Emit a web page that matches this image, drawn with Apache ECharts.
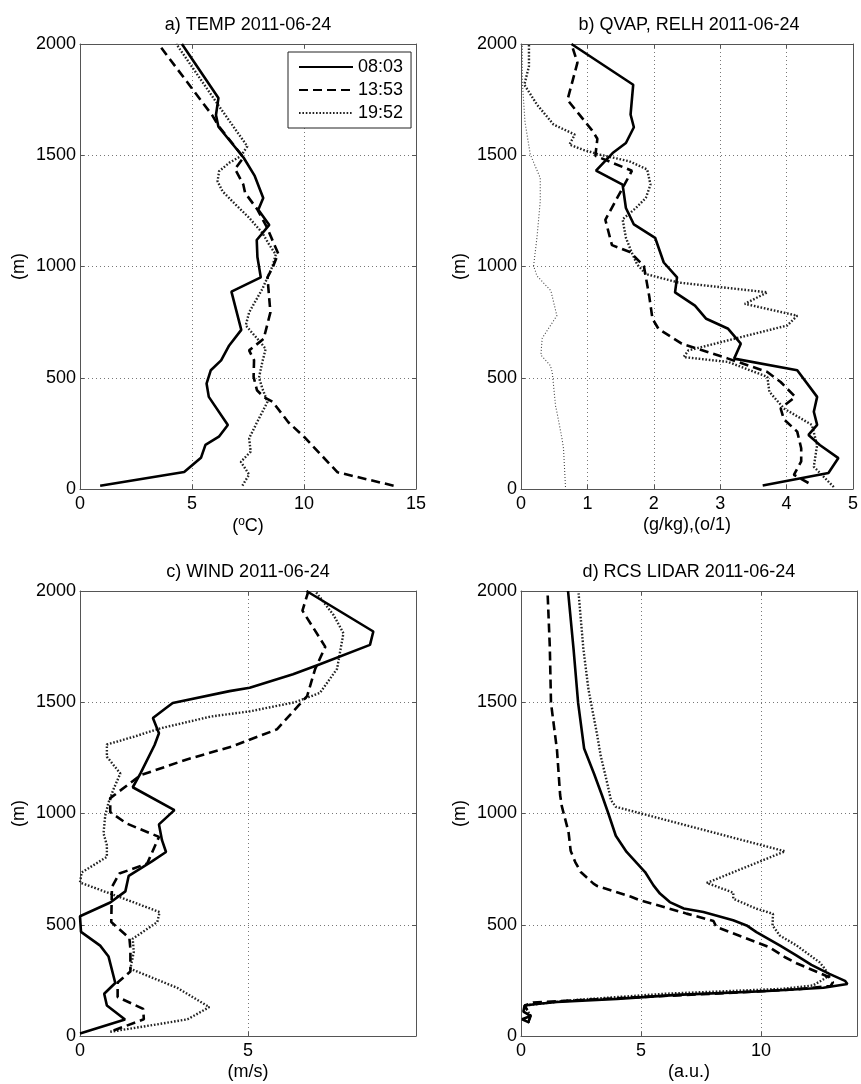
<!DOCTYPE html>
<html><head><meta charset="utf-8">
<script src="https://cdn.jsdelivr.net/npm/echarts@6/dist/echarts.min.js"></script>
<style>html,body{margin:0;padding:0;background:#fff}#c{width:861px;height:1084px}</style>
</head><body><div id="c"></div><script>
// ---------------- DATA ----------------
const seriesNames = ['08:03', '13:53', '19:52'];
const panelTitles = ['a) TEMP 2011-06-24', 'b) QVAP, RELH 2011-06-24', 'c) WIND 2011-06-24', 'd) RCS LIDAR 2011-06-24'];
const xAxisNames = ['({s|o}C)', '(g/kg),(o/1)', '(m/s)', '(a.u.)'];
const yAxisName = '(m)';
const xLimits = [[0, 15, 5], [0, 5, 1], [0, 10, 5], [0, 14, 5]];
const yLimits = [0, 2000, 500];

// a) TEMP
const tempH0803 = [15, 76, 140, 198, 235, 288, 414, 474, 534, 578, 645, 715, 887, 951, 1043, 1119, 1187, 1255, 1308, 1407, 1490, 1628, 1681, 1757, 2000];
const temp0803  = [0.9, 4.65, 5.4, 5.6, 6.2, 6.6, 5.75, 5.65, 5.84, 6.3, 6.66, 7.2, 6.76, 8.07, 7.92, 7.89, 8.45, 7.96, 8.18, 7.8, 7.3, 6.18, 6.07, 6.18, 4.55];
const tempH1353 = [15, 75, 160, 230, 300, 392, 414, 444, 504, 579, 623, 675, 794, 951, 996, 1058, 1179, 1256, 1331, 1369, 1438, 1490, 1630, 1680, 2000];
const temp1353  = [14.0, 11.5, 10.7, 10.05, 9.3, 8.6, 8.2, 7.9, 7.75, 7.77, 7.55, 8.2, 8.5, 8.37, 8.6, 8.85, 8.33, 7.92, 7.37, 7.29, 6.92, 7.3, 6.2, 5.9, 3.5];
const tempH1952 = [15, 65, 122, 168, 228, 303, 392, 452, 500, 571, 630, 675, 735, 794, 899, 1000, 1054, 1099, 1151, 1219, 1278, 1338, 1383, 1428, 1466, 1496, 1540, 1720, 2000];
const temp1952  = [7.25, 7.55, 7.18, 7.62, 7.55, 7.92, 8.37, 8.14, 7.99, 8.14, 8.29, 7.92, 7.4, 7.55, 8.14, 8.59, 8.74, 8.44, 8.14, 7.55, 6.95, 6.36, 6.14, 6.21, 6.66, 7.18, 7.47, 6.21, 4.3];

// b) QVAP, RELH
const qvapH0803 = [16, 72, 139, 198, 243, 288, 347, 414, 534, 586, 653, 720, 765, 824, 884, 951, 1018, 1129, 1189, 1263, 1368, 1431, 1510, 1555, 1626, 1683, 1817, 2000];
const qvap0803  = [3.64, 4.63, 4.78, 4.5, 4.33, 4.46, 4.41, 4.46, 4.16, 3.21, 3.31, 3.12, 2.79, 2.62, 2.32, 2.35, 2.15, 2.02, 1.70, 1.58, 1.53, 1.13, 1.38, 1.58, 1.70, 1.65, 1.69, 0.76];
const qvapH1353 = [27, 64, 124, 183, 258, 313, 362, 414, 481, 526, 586, 653, 720, 765, 869, 1003, 1065, 1096, 1210, 1347, 1430, 1498, 1574, 1612, 1749, 1916, 2000];
const qvap1353  = [4.33, 4.11, 4.22, 4.22, 4.16, 3.96, 3.91, 4.13, 3.91, 3.71, 3.12, 2.42, 2.07, 1.98, 1.93, 1.85, 1.64, 1.37, 1.27, 1.52, 1.67, 1.12, 1.15, 1.07, 0.70, 0.85, 0.76];
const qvapH1952 = [9, 100, 198, 288, 362, 437, 504, 571, 593, 623, 735, 779, 832, 884, 928, 966, 1009, 1054, 1129, 1212, 1263, 1308, 1368, 1436, 1473, 1503, 1525, 1548, 1593, 1638, 1728, 1817, 1900, 2000];
const qvap1952  = [4.71, 4.41, 4.46, 4.38, 3.96, 3.74, 3.71, 3.12, 2.45, 2.52, 4.01, 4.16, 3.37, 3.71, 2.37, 1.88, 1.75, 1.68, 1.58, 1.53, 1.73, 1.88, 1.95, 1.90, 1.63, 1.18, 0.93, 0.73, 0.81, 0.49, 0.24, 0.05, 0.12, 0.12];
const relhH1952 = [9, 183, 222, 347, 374, 466, 526, 556, 602, 645, 678, 779, 891, 958, 1003, 1129, 1293, 1398, 1503, 1650, 1830, 2000];
const relh1952  = [0.67, 0.64, 0.62, 0.54, 0.52, 0.49, 0.47, 0.44, 0.3, 0.31, 0.32, 0.54, 0.45, 0.24, 0.19, 0.24, 0.29, 0.29, 0.14, 0.06, 0.02, 0.02];

// c) WIND
const windH0803 = [11, 74, 137, 190, 238, 357, 406, 468, 538, 600, 650, 720, 785, 827, 880, 951, 1015, 1118, 1180, 1308, 1361, 1429, 1474, 1497, 1550, 1565, 1626, 1671, 1758, 1818, 2000];
const wind0803  = [0.0, 1.34, 0.8, 0.72, 1.05, 0.85, 0.6, 0.03, 0.0, 0.9, 1.35, 1.45, 2.14, 2.56, 2.44, 2.35, 2.81, 1.57, 1.8, 2.22, 2.35, 2.17, 2.56, 2.76, 4.45, 5.05, 6.34, 7.14, 8.63, 8.73, 6.74];
const windH1353 = [25, 75, 122, 175, 240, 290, 390, 440, 512, 670, 730, 775, 895, 955, 1006, 1069, 1172, 1243, 1300, 1378, 1528, 1650, 1749, 1912, 2000];
const wind1353  = [1.0, 1.9, 1.88, 1.12, 1.12, 1.5, 1.5, 1.47, 0.93, 0.95, 1.17, 2.0, 2.35, 1.39, 0.9, 0.9, 1.8, 3.18, 4.5, 5.86, 6.76, 7.0, 7.3, 6.62, 6.8];
const windH1952 = [19, 50, 75, 130, 216, 302, 377, 437, 512, 557, 640, 690, 735, 805, 857, 911, 990, 1050, 1110, 1180, 1255, 1310, 1345, 1383, 1436, 1459, 1500, 1542, 1650, 1810, 1891, 2000];
const wind1952  = [0.9, 2.2, 3.2, 3.85, 2.9, 1.5, 1.6, 1.57, 2.3, 2.37, 0.9, 0.0, 0.05, 0.8, 0.8, 0.7, 0.75, 0.85, 1.0, 1.2, 0.8, 0.8, 1.6, 2.4, 3.9, 5.05, 6.4, 7.14, 7.65, 7.84, 7.55, 7.0];

// d) RCS LIDAR
const rcsH0803 = [60, 75, 90, 110, 137, 144, 153, 167, 185, 201, 217, 234, 248, 279, 320, 362, 407, 467, 497, 520, 557, 573, 602, 640, 677, 737, 827, 900, 1000, 1083, 1180, 1292, 1497, 1739, 2000];
const rcs0803  = [0.35, 0.05, 0.4, 0.1, 0.15, 0.66, 1.5, 4.0, 6.5, 10.1, 12.6, 13.6, 13.5, 12.85, 12.1, 11.47, 10.78, 9.81, 9.4, 8.84, 7.6, 6.78, 6.2, 5.79, 5.52, 5.17, 4.4, 3.95, 3.64, 3.37, 3.04, 2.63, 2.38, 2.19, 1.96];
const rcsH1353 = [60, 90, 137, 150, 170, 190, 210, 225, 242, 264, 327, 354, 399, 490, 517, 550, 580, 610, 627, 674, 685, 737, 782, 832, 917, 1033, 1083, 1285, 1497, 1750, 1987];
const rcs1353  = [0.3, 0.4, 0.15, 0.5, 4.0, 8.0, 11.5, 12.9, 13.0, 12.85, 11.48, 11.0, 10.35, 8.14, 8.02, 6.9, 5.95, 4.96, 4.56, 3.18, 3.02, 2.49, 2.26, 2.07, 1.98, 1.7, 1.63, 1.5, 1.25, 1.2, 1.11];
const rcsH1952 = [60, 90, 137, 160, 190, 212, 227, 248, 272, 312, 332, 407, 452, 497, 549, 572, 617, 644, 688, 830, 1030, 1060, 1133, 1260, 1361, 1558, 1739, 1989];
const rcs1952  = [0.3, 0.4, 0.15, 2.0, 6.0, 10.9, 12.16, 12.5, 12.85, 12.59, 12.43, 11.48, 10.78, 10.48, 10.5, 9.81, 8.84, 8.85, 7.74, 11.0, 3.95, 3.75, 3.6, 3.32, 3.16, 2.81, 2.6, 2.4];

// ---------------- CHART ----------------
const FONT = 'Liberation Sans, Arial, Helvetica, sans-serif';
const grids = [
  {left: 80, top: 44, width: 336, height: 445},
  {left: 521, top: 44, width: 336, height: 445},
  {left: 80, top: 591, width: 336, height: 445},
  {left: 521, top: 591, width: 336, height: 445}
];
const pairs = (vals, hts) => hts.map((h, i) => [vals[i], h]);
const ST = {
  solid:  {type: 'solid', width: 2.6, color: '#000'},
  dashed: {type: [9, 5], width: 2.6, color: '#000'},
  dotted: {type: [1.6, 1.8], width: 2.4, color: '#222'},
  thin:   {type: [1, 2], width: 1.1, color: '#444'}
};
const AXC = '#555';
const plain = v => String(v);
const xAxes = [], yAxes = [];
grids.forEach((g, i) => {
  const [mn, mx, iv] = xLimits[i];
  xAxes.push({
    type: 'value', gridIndex: i, position: 'bottom', min: mn, max: mx, interval: iv,
    name: xAxisNames[i], nameLocation: 'middle', nameGap: 27,
    nameTextStyle: {fontFamily: FONT, fontSize: 18, color: '#000',
      rich: {s: {fontFamily: FONT, fontSize: 12, color: '#000', padding: [0, 0, 9, 0]}}},
    axisLine: {show: true, onZero: false, lineStyle: {color: AXC, width: 1}},
    axisTick: {show: true, inside: true, length: 4, lineStyle: {color: AXC}},
    axisLabel: {show: true, margin: 6, fontFamily: FONT, fontSize: 18, color: '#000', formatter: plain,
      showMaxLabel: mx % iv === 0 && i !== 2},
    splitLine: {show: true, lineStyle: {type: [1, 3], color: '#777', width: 1}}
  });
  xAxes.push({
    type: 'value', gridIndex: i, position: 'top', min: mn, max: mx, interval: iv,
    axisLine: {show: true, onZero: false, lineStyle: {color: AXC, width: 1}},
    axisTick: {show: true, inside: true, length: 4, lineStyle: {color: AXC}},
    axisLabel: {show: false}, splitLine: {show: false}
  });
  yAxes.push({
    type: 'value', gridIndex: i, position: 'left', min: yLimits[0], max: yLimits[1], interval: yLimits[2],
    name: yAxisName, nameLocation: 'middle', nameGap: 52, nameRotate: 90,
    nameTextStyle: {fontFamily: FONT, fontSize: 18, color: '#000'},
    axisLine: {show: true, onZero: false, lineStyle: {color: AXC, width: 1}},
    axisTick: {show: true, inside: true, length: 4, lineStyle: {color: AXC}},
    axisLabel: {show: true, margin: 4, fontFamily: FONT, fontSize: 18, color: '#000', formatter: plain},
    splitLine: {show: true, lineStyle: {type: [1, 3], color: '#777', width: 1}}
  });
  yAxes.push({
    type: 'value', gridIndex: i, position: 'right', min: yLimits[0], max: yLimits[1], interval: yLimits[2],
    axisLine: {show: true, onZero: false, lineStyle: {color: AXC, width: 1}},
    axisTick: {show: true, inside: true, length: 4, lineStyle: {color: AXC}},
    axisLabel: {show: false}, splitLine: {show: false}
  });
});
function line(name, panel, data, style, z) {
  return {
    name: name, type: 'line', xAxisIndex: panel * 2, yAxisIndex: panel * 2,
    data: data, symbol: 'none', showSymbol: false, lineStyle: style,
    itemStyle: {color: style.color}, clip: true, z: z || 2, silent: true
  };
}
const series = [
  line(seriesNames[2], 0, pairs(temp1952, tempH1952), ST.dotted),
  line(seriesNames[1], 0, pairs(temp1353, tempH1353), ST.dashed),
  line(seriesNames[0], 0, pairs(temp0803, tempH0803), ST.solid),
  line('RELH 19:52', 1, pairs(relh1952, relhH1952), ST.thin),
  line(seriesNames[2], 1, pairs(qvap1952, qvapH1952), ST.dotted),
  line(seriesNames[1], 1, pairs(qvap1353, qvapH1353), ST.dashed),
  line(seriesNames[0], 1, pairs(qvap0803, qvapH0803), ST.solid),
  line(seriesNames[2], 2, pairs(wind1952, windH1952), ST.dotted),
  line(seriesNames[1], 2, pairs(wind1353, windH1353), ST.dashed),
  line(seriesNames[0], 2, pairs(wind0803, windH0803), ST.solid),
  line(seriesNames[2], 3, pairs(rcs1952, rcsH1952), ST.dotted),
  line(seriesNames[1], 3, pairs(rcs1353, rcsH1353), ST.dashed),
  line(seriesNames[0], 3, pairs(rcs0803, rcsH0803), ST.solid)
];
const titles = grids.map((g, i) => ({
  text: panelTitles[i], left: g.left + g.width / 2, top: g.top - 28, textAlign: 'center', padding: 0,
  textStyle: {fontFamily: FONT, fontSize: 18, fontWeight: 'normal', color: '#000'}
}));
const chart = echarts.init(document.getElementById('c'), null, {renderer: 'canvas'});
chart.setOption({
  animation: false,
  backgroundColor: '#fff',
  title: titles,
  grid: grids.map(g => Object.assign({containLabel: false, show: false}, g)),
  xAxis: xAxes, yAxis: yAxes,
  legend: {
    data: seriesNames, orient: 'vertical', left: 288, top: 52,
    padding: [6, 8, 6, 10], itemGap: 5, itemWidth: 54, itemHeight: 12,
    itemStyle: {opacity: 0, borderWidth: 0},
    borderColor: '#222', borderWidth: 1, borderRadius: 0, backgroundColor: '#fff',
    textStyle: {fontFamily: FONT, fontSize: 18, color: '#000', padding: [0, 0, 0, 0]},
    selectedMode: false, z: 10
  },
  series: series
});
</script></body></html>
